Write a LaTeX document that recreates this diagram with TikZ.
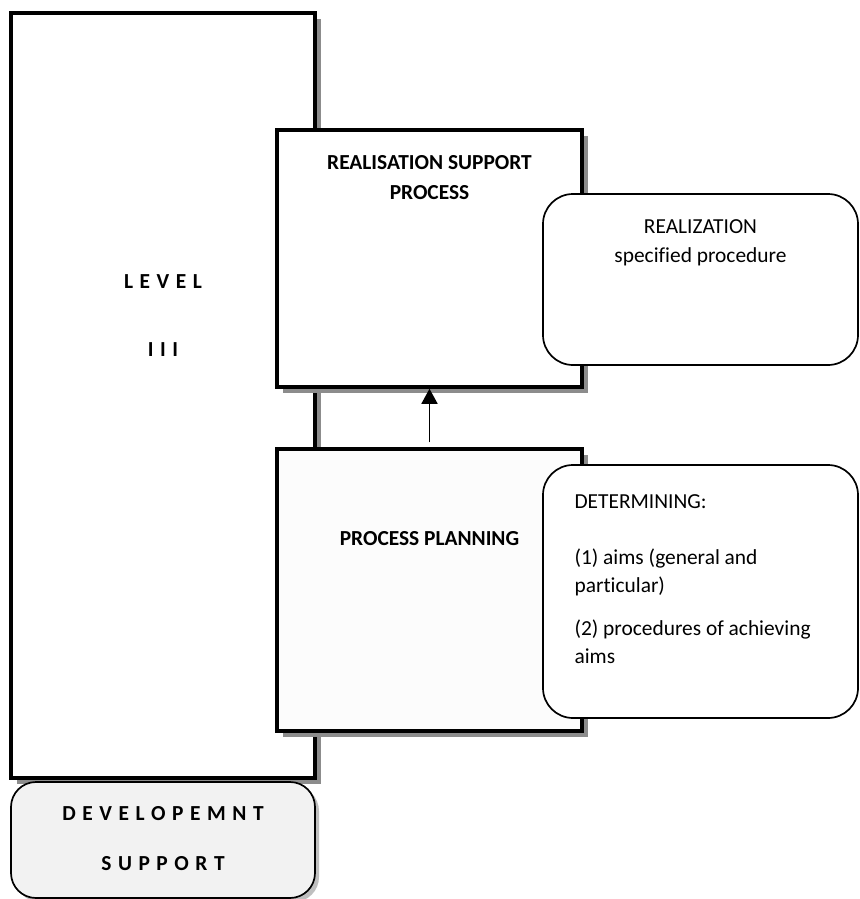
\documentclass[tikz,border=0pt]{standalone}
\usepackage{fontspec}
\setmainfont[Ligatures=NoCommon]{Carlito}
\usetikzlibrary{positioning, arrows.meta, shadows}
\definecolor{shgray}{HTML}{8C8C8C}
\definecolor{devgray}{HTML}{F2F2F2}
\newcommand{\spacedcaps}[1]{{\addfontfeature{LetterSpace=8}#1}}

\begin{document}
\begin{tikzpicture}[
      x=0.5pt, y=-0.5pt,
      every node/.style={font=\fontsize{10.7}{14.5}\selectfont, inner sep=0pt},
      sqbox/.style={draw, line width=1.75pt, fill=white,
                  drop shadow={shadow xshift=3pt, shadow yshift=-3pt,
                               fill=shgray, opacity=1}},
      rbox/.style={draw, line width=0.85pt, fill=white, rounded corners=15pt},
      devbox/.style={draw, line width=0.85pt, fill=devgray, rounded corners=12.5pt,
                  drop shadow={shadow xshift=2pt, shadow yshift=-2pt,
                               fill=black!25, opacity=1}},
      btext/.style={font=\fontsize{10.7}{15}\bfseries, align=center},
      >=Stealth,
    ]
    \useasboundingbox (0,0) rectangle (859,899);

    % left column
    \node[sqbox, minimum width=152pt, minimum height=382.5pt] (lvl) at (163,395.5) {};
    \node[btext, below=131.5pt of lvl.north] (lvltxt)
      {\spacedcaps{L E V E L}\\[19pt]\spacedcaps{I I I}};
    \node[devbox, minimum width=152pt, minimum height=58pt] (dev) at (163,840) {};
    \node[btext, below=12.5pt of dev.north] (devtxt)
      {\spacedcaps{D E V E L O P E M N T}\\[10pt]\spacedcaps{S U P P O R T}};

    % realisation
    \node[sqbox, minimum width=152.5pt, minimum height=128.5pt] (rsp) at (429.5,258.5) {};
    \node[btext, below=13.5pt of rsp.north] (rsptxt) {REALISATION SUPPORT\\PROCESS};
    \node[rbox, minimum width=157.5pt, minimum height=85.5pt] (rz) at (700.5,279.5) {};
    \node[align=center, below=13pt of rz.north] (rztxt) {REALIZATION\\specified procedure};

    % planning
    \node[sqbox, fill=black!1, minimum width=152.5pt, minimum height=141pt] (pp) at (429.5,590) {};
    \node[btext, below=42pt of pp.north] (pptxt) {PROCESS PLANNING};
    \node[rbox, minimum width=157.5pt, minimum height=126.5pt] (det) at (700.5,591.5) {};
    \node[align=left, font=\fontsize{10.7}{14}\selectfont,
          below right=15pt and 16pt of det.north west] (dettxt)
      {DETERMINING:\\[14pt]
       (1) aims (general and\\
       particular)\\[7.5pt]
       (2) procedures of achieving\\
       aims};

    \draw[->, line width=0.75pt, shorten <=2.5pt,
          -{Triangle[length=7.5pt, width=8pt]}] (pp.north) -- (rsp.south);
  \end{tikzpicture}
\end{document}
